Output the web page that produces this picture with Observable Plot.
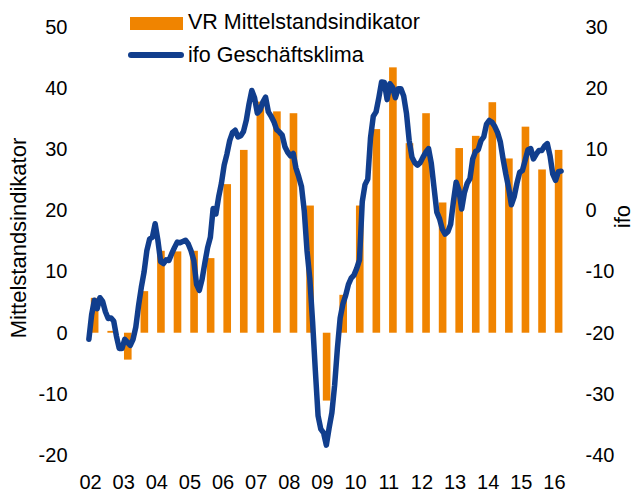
<!DOCTYPE html>
<html>
<head>
<meta charset="utf-8">
<script src="https://cdn.jsdelivr.net/npm/d3@7"></script>
<script src="https://cdn.jsdelivr.net/npm/@observablehq/plot@0.6"></script>
<style>
  html, body { margin: 0; padding: 0; background: #fff; }
  #wrap { position: relative; width: 635px; height: 492px; font-family: "Liberation Sans", Arial, sans-serif; }
  .leg { position: absolute; font-size: 21.5px; line-height: 21.5px; color: #000; white-space: nowrap; }
  .sw-bar { position: absolute; left: 130px; top: 17px; width: 53px; height: 12.5px; }
  .sw-line { position: absolute; left: 128px; top: 52px; width: 56px; height: 6px; border-radius: 3px; }
</style>
</head>
<body>
<div id="wrap"></div>
<script>
// ---- Data ----
const seriesNames = ["VR Mittelstandsindikator", "ifo Geschäftsklima"];
const orange = "#f08400";
const blue = "#113e8d";

// VR Mittelstandsindikator, half-yearly (spring / autumn), 2002 .. spring 2016
const vrStartYear = 2002;
const vrValues = [
  5.7, 0.3,   -4.4, 6.8,   13.4, 13.3,  13.4, 12.2,  24.3, 29.9,
  37.8, 36.2, 35.9, 20.8,  -11.1, 6.2,  20.8, 33.3,  43.4, 31.0,
  35.9, 21.3, 30.2, 32.2,  37.7, 28.5,  33.7, 26.7,  29.9
];

// ifo Geschäftsklima, monthly from Jan 2002 to Apr 2016
const ifoStartYear = 2002;
const ifoValues = [
  // 2002
  -21.0, -17.0, -14.6, -16.0, -14.2, -14.8, -16.5, -17.6, -17.5, -18.0, -20.5, -22.5,
  // 2003
  -22.5, -21.0, -21.5, -22.0, -21.0, -19.0, -15.5, -12.5, -10.0, -6.5, -4.6, -4.3,
  // 2004
  -2.1, -4.8, -8.3, -8.6, -8.0, -8.1, -7.0, -6.0, -5.1, -5.2, -5.0, -4.8,
  // 2005
  -5.4, -6.5, -8.1, -12.0, -13.0, -11.2, -8.5, -6.0, -4.3, 0.4, -0.5, 2.3,
  // 2006
  4.5, 7.5, 9.3, 11.5, 12.8, 13.2, 12.1, 12.3, 13.0, 14.8, 17.5, 19.7,
  // 2007
  18.5, 16.0, 16.5, 17.8, 18.6, 16.2, 15.5, 14.6, 13.3, 12.9, 12.4, 10.5,
  // 2008
  9.6, 9.0, 9.4, 7.0, 5.6, 4.0, 0.0, -6.5, -11.0, -18.0, -26.0, -33.5,
  // 2009
  -35.7, -36.3, -38.3, -35.5, -33.0, -28.5, -22.5, -17.5, -15.2, -13.8, -12.0, -11.0,
  // 2010
  -10.5, -9.4, -8.0, 1.5, 4.3, 5.2, 12.0, 15.5, 16.2, 18.5, 21.1, 21.0,
  // 2011
  18.2, 20.8, 20.2, 18.5, 20.0, 20.0, 18.8, 16.0, 11.5, 8.8, 7.9, 7.5,
  // 2012
  7.9, 8.8, 9.6, 10.2, 7.8, 3.8, -0.2, -1.3, -3.0, -3.8, -3.4, -2.2,
  // 2013
  1.5, 4.7, 3.4, 0.3, 3.0, 4.5, 5.3, 8.5, 9.7, 10.0, 11.5, 12.1,
  // 2014
  14.2, 14.8, 14.5, 13.8, 12.8, 11.3, 8.5, 6.0, 3.8, 1.0, 2.3, 4.5,
  // 2015
  6.3, 6.6, 8.3, 10.0, 10.2, 8.5, 9.3, 9.9, 9.9, 10.6, 11.0, 9.0,
  // 2016
  6.0, 5.0, 6.4, 6.5
];

const yearTicks = [2002, 2003, 2004, 2005, 2006, 2007, 2008, 2009, 2010, 2011, 2012, 2013, 2014, 2015, 2016];
const leftTicks = [-20, -10, 0, 10, 20, 30, 40, 50];
const ifoOffset = 20; // right axis (ifo) = left axis value - 20
const rightTickLabels = [-40, -30, -20, -10, 0, 10, 20, 30];

// ---- Build tables ----
const bars = vrValues.map((v, k) => {
  const t = vrStartYear + Math.floor(k / 2) + (k % 2 === 0 ? 0.14 : 0.64);
  return {t, v};
});
const ifo = ifoValues.map((w, i) => ({t: ifoStartYear + (i - 0.6) / 12, w}));
const halfWidth = 0.115;

const chart = Plot.plot({
  width: 635,
  height: 492,
  marginLeft: 80,
  marginRight: 65,
  marginTop: 27,
  marginBottom: 37,
  x: {domain: [2001.698, 2016.484]},
  y: {domain: [-20, 50]},
  style: {fontFamily: "'Liberation Sans', Arial, sans-serif", fontSize: "20px", color: "#000", background: "transparent", overflow: "visible"},
  marks: [
    Plot.rect(bars, {x1: d => d.t - halfWidth, x2: d => d.t + halfWidth, y1: 0, y2: "v", fill: orange}),
    Plot.line(ifo, {x: "t", y: d => d.w + ifoOffset, stroke: blue, strokeWidth: 5.5, strokeLinejoin: "round", strokeLinecap: "round"}),
    Plot.axisY(leftTicks, {anchor: "left", tickSize: 0, tickPadding: 13, label: null, tickFormat: d => String(d), fontSize: 20}),
    Plot.axisY(rightTickLabels.map(d => d + ifoOffset), {anchor: "right", tickSize: 0, tickPadding: 15, label: null, tickFormat: d => String(d - ifoOffset), fontSize: 20}),
    Plot.axisX(yearTicks, {anchor: "bottom", tickSize: 0, tickPadding: 19, label: null, tickFormat: d => String(d % 100).padStart(2, "0"), fontSize: 20}),
    Plot.text(["Mittelstandsindikator"], {frameAnchor: "left", textAnchor: "middle", lineAnchor: "middle", rotate: -90, dx: -61.5, dy: -3.5, fontSize: 22, fill: "#000"}),
    Plot.text(["ifo"], {frameAnchor: "right", textAnchor: "middle", lineAnchor: "middle", rotate: -90, dx: 52, dy: -25, fontSize: 22, fill: "#000"})
  ]
});

const wrap = document.getElementById("wrap");
wrap.appendChild(chart);
chart.style.position = "absolute";
chart.style.left = "0px";
chart.style.top = "0px";

// Legend (inside the plot area, top left)
const sw1 = document.createElement("div");
sw1.className = "sw-bar"; sw1.style.background = orange;
const t1 = document.createElement("div");
t1.className = "leg"; t1.style.left = "188px"; t1.style.top = "12px"; t1.textContent = seriesNames[0];
const sw2 = document.createElement("div");
sw2.className = "sw-line"; sw2.style.background = blue;
const t2 = document.createElement("div");
t2.className = "leg"; t2.style.left = "188px"; t2.style.top = "45px"; t2.textContent = seriesNames[1];
wrap.append(sw1, t1, sw2, t2);
</script>
</body>
</html>
